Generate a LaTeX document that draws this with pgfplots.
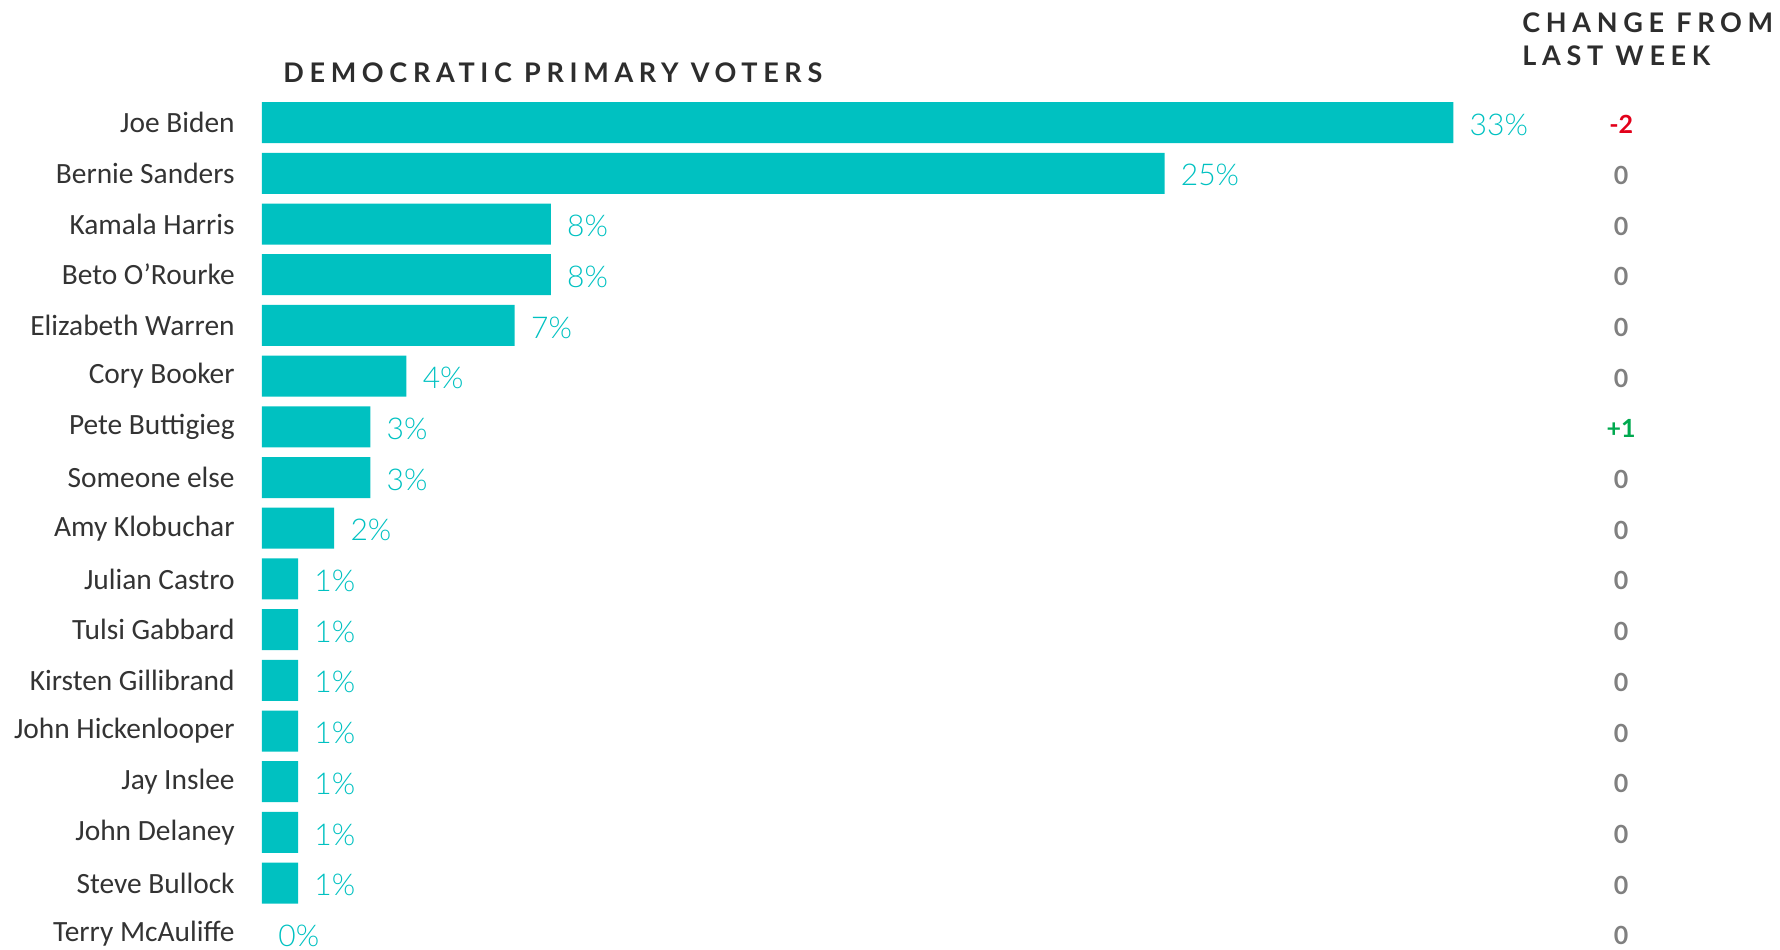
\documentclass[border=0pt]{standalone}
\usepackage{pgfplots}
\pgfplotsset{compat=1.18}
\usepackage{fontspec}
\setmainfont{Carlito}
\newfontfamily\pctfont{Lato Light}
\newfontfamily\chfont{Lato}
\newfontfamily\hdfont[LetterSpace=21]{Lato}
\definecolor{tealc}{RGB}{0,193,193}
\definecolor{namecol}{RGB}{51,51,51}
\definecolor{hdcol}{RGB}{45,45,45}
\definecolor{graycol}{RGB}{128,128,128}
\definecolor{redc}{RGB}{226,0,26}
\definecolor{greenc}{RGB}{0,169,79}
\begin{document}
\begin{tikzpicture}
\path[use as bounding box] (-131pt,-413.2pt) rectangle (759pt,61.3pt);
\begin{axis}[
  at={(0pt,12.675pt)}, anchor=north west,
  x=18.05pt, y=25.35pt, y dir=reverse,
  xmin=0, xmax=33, ymin=-0.5, ymax=16.5,
  axis line style={draw=none}, major tick length=0pt,
  xtick=\empty, ytick={0,...,16},
  yticklabels={Joe Biden, Bernie Sanders, Kamala Harris, Beto O’Rourke, Elizabeth Warren, Cory Booker, Pete Buttigieg, Someone else, Amy Klobuchar, Julian Castro, Tulsi Gabbard, Kirsten Gillibrand, John Hickenlooper, Jay Inslee, John Delaney, Steve Bullock, Terry McAuliffe},
  yticklabel style={font=\fontsize{14.7}{18}\selectfont, color=namecol, inner sep=0pt, anchor=east, xshift=-13.5pt},
  clip=false,
]
\addplot[xbar, bar width=20.5pt, fill=tealc, draw=none, bar shift=0pt,
  point meta=x,
  nodes near coords={\pgfmathprintnumber[assume math mode=true]{\pgfplotspointmeta}\%},
  nodes near coords style={font=\pctfont\fontsize{15}{18}\selectfont, color=tealc, anchor=west, inner sep=0pt, xshift=8pt, yshift=-1pt}]
coordinates {(33,0) (25,1) (8,2) (8,3) (7,4) (4,5) (3,6) (3,7) (2,8) (1,9) (1,10) (1,11) (1,12) (1,13) (1,14) (1,15)};
% Terry McAuliffe: 0% (no visible bar)
\addplot[draw=none, mark=none, point meta=x,
  nodes near coords={\pgfmathprintnumber[assume math mode=true]{\pgfplotspointmeta}\%},
  nodes near coords style={font=\pctfont\fontsize{15}{18}\selectfont, color=tealc, anchor=west, inner sep=0pt, xshift=8pt, yshift=-1pt}]
coordinates {(0,16)};
\addplot[draw=none, mark=none, nodes near coords={0},
  nodes near coords style={font=\chfont\bfseries\fontsize{12.5}{14}\selectfont, color=graycol, anchor=center, inner sep=0pt, yshift=-1pt}]
coordinates {(37.65,1) (37.65,2) (37.65,3) (37.65,4) (37.65,5) (37.65,7) (37.65,8) (37.65,9) (37.65,10) (37.65,11) (37.65,12) (37.65,13) (37.65,14) (37.65,15) (37.65,16)};
\addplot[draw=none, mark=none, nodes near coords={-2},
  nodes near coords style={font=\chfont\bfseries\fontsize{12.5}{14}\selectfont, color=redc, anchor=center, inner sep=0pt, yshift=-1pt}]
coordinates {(37.65,0)};
\addplot[draw=none, mark=none, nodes near coords={+1},
  nodes near coords style={font=\chfont\bfseries\fontsize{12.5}{14}\selectfont, color=greenc, anchor=center, inner sep=0pt, yshift=-1pt}]
coordinates {(37.65,6)};
\end{axis}
\node[anchor=base west, inner sep=0pt, font=\hdfont\bfseries\fontsize{13.5}{16}\selectfont, color=hdcol] at (10.5pt,20.3pt) {DEMOCRATIC PRIMARY VOTERS};
\node[anchor=base west, inner sep=0pt, font=\hdfont\bfseries\fontsize{13.5}{16}\selectfont, color=hdcol] at (630pt,45.3pt) {CHANGE FROM};
\node[anchor=base west, inner sep=0pt, font=\hdfont\bfseries\fontsize{13.5}{16}\selectfont, color=hdcol] at (630pt,28.8pt) {LAST WEEK};
\end{tikzpicture}
\end{document}
